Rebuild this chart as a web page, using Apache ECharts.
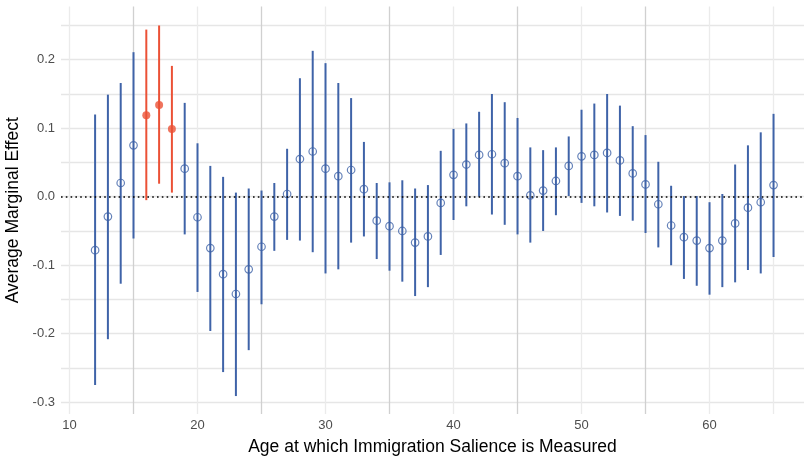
<!DOCTYPE html>
<html>
<head>
<meta charset="utf-8">
<script src="https://cdn.jsdelivr.net/npm/echarts@6/dist/echarts.min.js"></script>
<style>
  html, body { margin: 0; padding: 0; background: #ffffff; }
  #chart { width: 804px; height: 457px; }
</style>
</head>
<body>
<div id="chart"></div>
<script>
// Age at which immigration salience is measured
const ages = [12,13,14,15,16,17,18,19,20,21,22,23,24,25,26,27,28,29,30,31,32,33,34,35,36,37,38,
              39,40,41,42,43,44,45,46,47,48,49,50,51,52,53,54,55,56,57,58,59,60,61,62,63,64,65];
// Average marginal effect (point estimate)
const effect = [-0.078,-0.029,0.020,0.075,0.119,0.134,0.099,0.041,-0.030,-0.075,-0.113,-0.142,-0.106,-0.073,
                -0.029,0.004,0.055,0.066,0.041,0.030,0.039,0.011,-0.035,-0.043,-0.050,-0.067,-0.058,
                -0.009,0.032,0.047,0.061,0.062,0.049,0.030,0.002,0.009,0.023,0.045,0.059,0.061,0.064,
                0.053,0.034,0.018,-0.011,-0.042,-0.059,-0.064,-0.075,-0.064,-0.039,-0.016,-0.008,0.017];
// Lower bound of the confidence interval
const lower = [-0.275,-0.208,-0.127,-0.061,-0.005,0.019,0.006,-0.055,-0.139,-0.196,-0.256,-0.291,-0.224,-0.157,
               -0.079,-0.063,-0.064,-0.081,-0.112,-0.106,-0.067,-0.058,-0.091,-0.108,-0.124,-0.145,-0.132,
               -0.085,-0.034,-0.014,0.000,-0.026,-0.041,-0.055,-0.067,-0.050,-0.027,0.001,-0.009,-0.014,-0.023,
               -0.028,-0.035,-0.053,-0.074,-0.100,-0.120,-0.130,-0.143,-0.132,-0.125,-0.107,-0.112,-0.088];
// Upper bound of the confidence interval
const upper = [0.120,0.149,0.166,0.211,0.244,0.250,0.191,0.137,0.078,0.045,0.029,0.006,0.012,0.009,
               0.020,0.070,0.173,0.213,0.195,0.166,0.144,0.080,0.020,0.021,0.024,0.012,0.017,
               0.067,0.099,0.107,0.124,0.150,0.138,0.115,0.072,0.068,0.072,0.088,0.127,0.136,0.150,
               0.133,0.103,0.090,0.051,0.016,0.001,0.001,-0.008,0.004,0.047,0.075,0.094,0.121];
// Ages drawn in the highlight colour
const highlightAges = [16, 17, 18];

// Axis ticks and labels
const xTickValues = [10,15,20,25,30,35,40,45,50,55,60,65];
const xLabelValues = [10,20,30,40,50,60];
const yTickValues = [-0.3,-0.25,-0.2,-0.15,-0.1,-0.05,0,0.05,0.1,0.15,0.2,0.25];
const yLabelValues = [-0.3,-0.2,-0.1,0,0.1,0.2];

const BLUE = '#3F63A8';
const RED = '#EB5136';
const FONT = '"Liberation Sans", Arial, sans-serif';

const isHi = a => highlightAges.indexOf(a) >= 0;
const barData = ages.map((a, i) => [a, lower[i], upper[i], isHi(a) ? 1 : 0]);
const bluePts = ages.map((a, i) => [a, effect[i]]).filter(p => !isHi(p[0]));
const redPts = ages.map((a, i) => [a, effect[i]]).filter(p => isHi(p[0]));

// vertical grid colours: lighter at the decades, darker at the half-decades
const vColors = xTickValues.map(v => (v % 10 === 5 && v < 65) ? '#d0d0d0' : '#ebebeb');

const chart = echarts.init(document.getElementById('chart'), null, { renderer: 'canvas' });
chart.setOption({
  animation: false,
  backgroundColor: '#ffffff',
  grid: { left: 61, right: 0, top: 6.5, bottom: 43, containLabel: false, outerBoundsMode: 'none' },
  xAxis: {
    type: 'value',
    min: 9.336,
    max: 67.38,
    axisLine: { show: false },
    axisTick: { show: false, customValues: xTickValues },
    axisLabel: {
      customValues: xLabelValues,
      color: '#4d4d4d', fontSize: 13, fontFamily: FONT, margin: 5,
      formatter: v => String(v)
    },
    splitLine: { show: true, lineStyle: { color: vColors, width: 1.3 } },
    name: 'Age at which Immigration Salience is Measured',
    nameLocation: 'middle',
    nameGap: 24,
    nameTextStyle: { color: '#000000', fontSize: 17.5, fontFamily: FONT }
  },
  yAxis: {
    type: 'value',
    min: -0.3172,
    max: 0.2777,
    axisLine: { show: false },
    axisTick: { show: false, customValues: yTickValues },
    axisLabel: {
      customValues: yLabelValues,
      color: '#4d4d4d', fontSize: 13, fontFamily: FONT, margin: 6,
      formatter: v => (Math.abs(v) < 1e-9 ? 0 : v).toFixed(1)
    },
    splitLine: { show: true, lineStyle: { color: '#e6e6e6', width: 1.3 } },
    name: 'Average Marginal Effect',
    nameLocation: 'middle',
    nameGap: 38,
    nameRotate: 90,
    nameTextStyle: { color: '#000000', fontSize: 17.5, fontFamily: FONT }
  },
  series: [
    {
      // confidence intervals
      type: 'custom',
      data: barData,
      z: 2,
      renderItem: (params, api) => {
        const x = api.value(0);
        const p1 = api.coord([x, api.value(1)]);
        const p2 = api.coord([x, api.value(2)]);
        return {
          type: 'line',
          shape: { x1: p1[0], y1: p1[1], x2: p2[0], y2: p2[1] },
          style: { stroke: api.value(3) ? RED : BLUE, lineWidth: 2 }
        };
      },
      markLine: {
        silent: true,
        symbol: ['none', 'none'],
        label: { show: false },
        lineStyle: { color: '#000000', type: [1.6, 3.2], width: 1.5 },
        data: [{ yAxis: 0 }]
      }
    },
    {
      type: 'scatter',
      data: bluePts,
      z: 3,
      symbol: 'circle',
      symbolSize: 7.5,
      itemStyle: { color: 'rgba(0,0,0,0)', borderColor: BLUE, borderWidth: 1.2 }
    },
    {
      type: 'scatter',
      data: redPts,
      z: 3,
      symbol: 'circle',
      symbolSize: 8,
      itemStyle: { color: RED }
    }
  ]
});
</script>
</body>
</html>
